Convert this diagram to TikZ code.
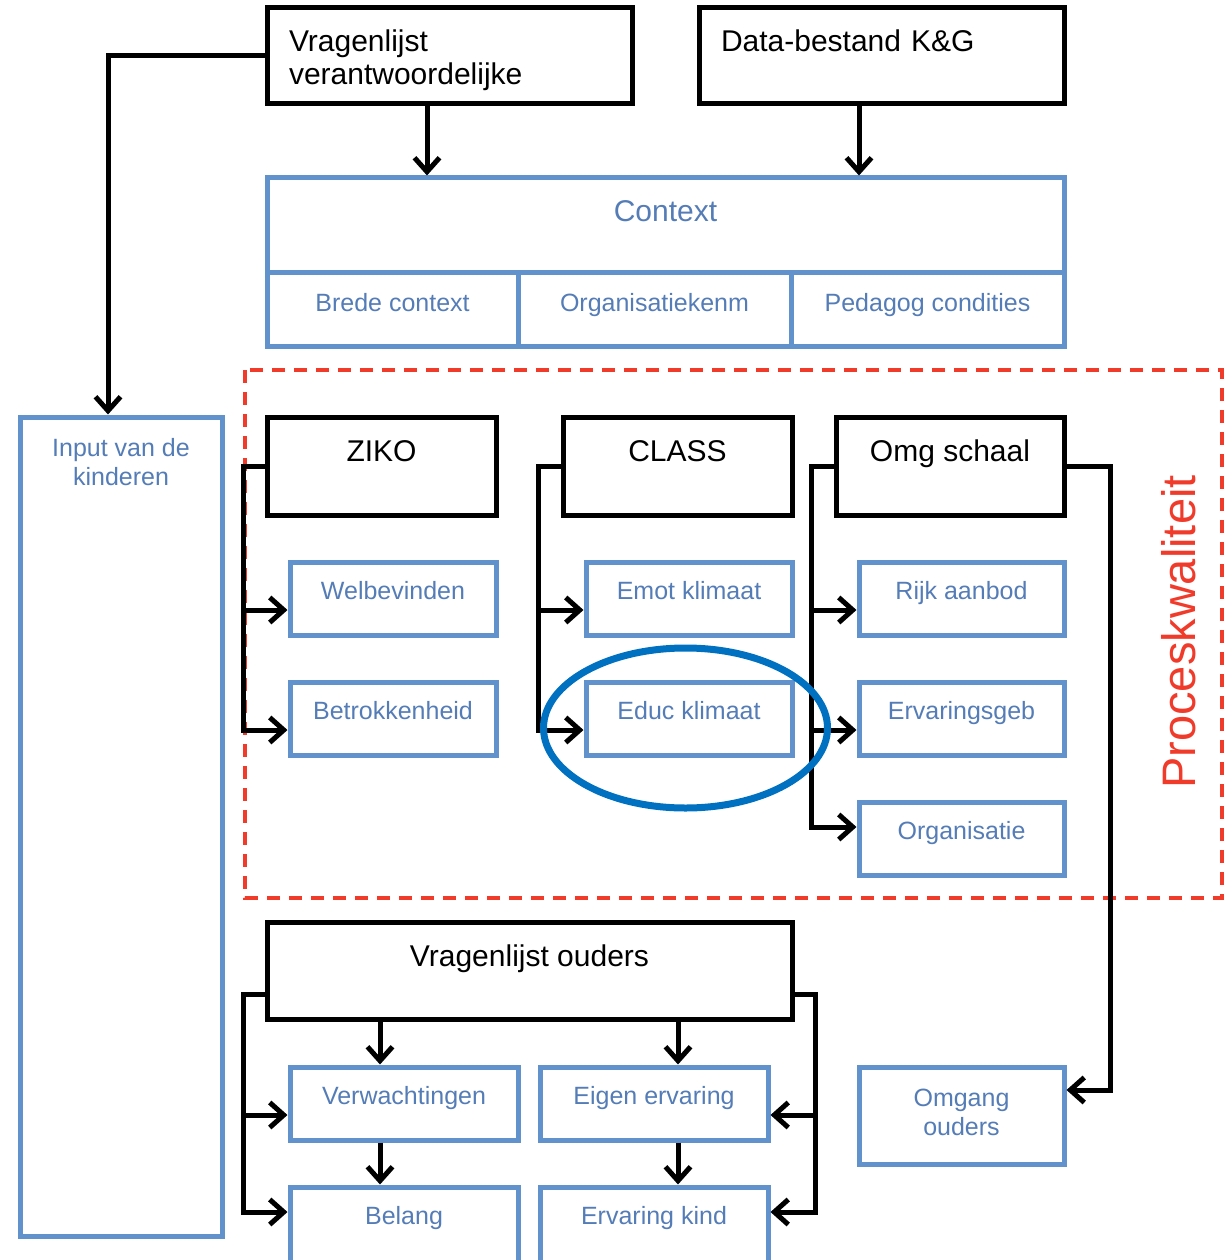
\documentclass[tikz,border=0pt]{standalone}
\usepackage{fontspec}
\setmainfont{Liberation Sans}
\usetikzlibrary{arrows.meta}
\definecolor{boxblue}{RGB}{98,146,204}
\definecolor{txtblue}{RGB}{84,124,182}
\definecolor{procred}{RGB}{240,58,42}
\definecolor{ringblue}{RGB}{0,112,192}
\newcommand{\blkfont}{\fontsize{30pt}{33pt}\selectfont}
\newcommand{\blufont}{\fontsize{25pt}{29pt}\selectfont}
\newcommand{\ctxfont}{\fontsize{30pt}{34pt}\selectfont}
\newcommand{\redfont}{\fontsize{47pt}{52pt}\selectfont}
\tikzset{
  blk/.style={draw, line width=5pt, inner sep=0pt, font=\blkfont, text height=44pt},
  blu/.style={draw=boxblue, line width=5pt, inner sep=0pt, font=\blufont,
    text=txtblue, text height=37pt},
  wire/.style={line width=5pt},
  conn/.style={wire, -{Straight Barb[length=14pt,width=25pt]}}
}
\begin{document}
\begin{tikzpicture}[x=1pt, y=-1pt]
      \useasboundingbox (0,0) rectangle (1229,1260);
      \clip (0,0) rectangle (1229,1260);
      % sources and context
      \node[blk, minimum width=365pt, text width=321pt, align=left, text depth=52pt]
        (vragver) at (449.5,56)
        {\begin{tabular}[t]{@{}l@{}}Vragenlijst\\verantwoordelijke\end{tabular}};
      \node[blk, minimum width=365pt, text width=321pt, align=left, text depth=52pt]
        (datakg) at (881.5,56) {Data-bestand K\&G};
      \node[blu, minimum width=797pt, font=\ctxfont, text height=43pt, text depth=51pt]
        (context) at (665.5,225) {Context};
      \node[blu, minimum width=251pt, text height=39pt, text depth=35pt]
        (brede) at (392.5,309) {Brede context};
      \node[blu, minimum width=273pt, text height=39pt, text depth=35pt]
        (orgk) at (654.5,309) {Organisatiekenm};
      \node[blu, minimum width=273pt, text height=39pt, text depth=35pt]
        (pedag) at (927.5,309) {Pedagog condities};
      \node[blu, minimum width=202pt, text height=39pt, text depth=780pt]
        (input) at (121,826.5)
        {\begin{tabular}[t]{@{}c@{}}Input van de\\kinderen\end{tabular}};

      % process quality
      \draw[procred, line width=3.5pt, dash pattern=on 13pt off 9pt]
        (245,370) rectangle (1222,898);
      \node[rotate=90, text=procred, font=\redfont, inner sep=0pt]
        (proces) at (1179,632) {Proceskwaliteit};
      \node[blk, minimum width=229pt, text depth=54pt] (ziko) at (381.5,466) {ZIKO};
      \node[blk, minimum width=229pt, text depth=54pt] (class) at (677.5,466) {CLASS};
      \node[blk, minimum width=228pt, text depth=54pt] (omg) at (950,466) {Omg schaal};
      \node[blu, minimum width=206pt, text depth=36pt] (welbev) at (393,598.5) {Welbevinden};
      \node[blu, minimum width=206pt, text depth=36pt] (betrok) at (393,718.5) {Betrokkenheid};
      \node[blu, minimum width=206pt, text depth=36pt] (emot) at (689,598.5) {Emot klimaat};
      \node[blu, minimum width=206pt, text depth=36pt] (educ) at (689,718.5) {Educ klimaat};
      \node[blu, minimum width=205pt, text depth=36pt] (rijk) at (961.5,598.5) {Rijk aanbod};
      \node[blu, minimum width=205pt, text depth=36pt] (ervgeb) at (961.5,718.5) {Ervaringsgeb};
      \node[blu, minimum width=205pt, text depth=36pt] (organ) at (961.5,838.5) {Organisatie};

      % parents
      \node[blk, minimum width=525pt, text depth=53pt] (vragoud) at (529.5,970.5) {Vragenlijst ouders};
      \node[blu, minimum width=228pt, text depth=36pt] (verw) at (404,1103.5) {Verwachtingen};
      \node[blu, minimum width=228pt, text depth=36pt] (eigen) at (654,1103.5) {Eigen ervaring};
      \node[blu, minimum width=228pt, text depth=43pt] (belang) at (404,1227) {Belang};
      \node[blu, minimum width=228pt, text depth=43pt] (ervkind) at (654,1227) {Ervaring kind};
      \node[blu, minimum width=205pt, text height=39pt, text depth=58pt]
        (omgang) at (961.5,1115.5)
        {\begin{tabular}[t]{@{}c@{}}Omgang\\ouders\end{tabular}};

      \draw[conn] (vragver.west) -| ([xshift=-13pt]input.north);
      \draw[conn] ([xshift=-22.5pt]vragver.south) -- ([xshift=-22.5pt]vragver.south |- context.north);
      \draw[conn] ([xshift=-22.5pt]datakg.south) -- ([xshift=-22.5pt]datakg.south |- context.north);

      \draw[conn] (ziko.west) -- ++(-21,0) coordinate (zikotr) |- (betrok.west |- 0,730);
      \draw[conn] (zikotr |- 0,610) -- (welbev.west |- 0,610);
      \draw[conn] (class.west) -- ++(-22,0) coordinate (classtr) |- (educ.west |- 0,730);
      \draw[conn] (classtr |- 0,610) -- (emot.west |- 0,610);
      \draw[conn] (omg.west) -- ++(-22,0) coordinate (omgtr) |- (organ.west |- 0,827);
      \draw[conn] (omgtr |- 0,610) -- (rijk.west |- 0,610);
      \draw[conn] (omgtr |- 0,730) -- (ervgeb.west |- 0,730);
      \draw[conn] (omg.east) -- ++(44,0) |- (omgang.east |- 0,1090);

      \draw[conn] ([yshift=-24pt]vragoud.west) -- ++(-21,0) coordinate (oudl) |- (belang.west |- 0,1212);
      \draw[conn] (oudl |- 0,1115) -- (verw.west |- 0,1115);
      \draw[conn] ([yshift=-24pt]vragoud.east) -- ++(21,0) coordinate (oudr) |- (ervkind.east |- 0,1212);
      \draw[conn] (oudr |- 0,1115) -- (eigen.east |- 0,1115);
      \draw[conn] (vragoud.south -| 380,0) -- (verw.north -| 380,0);
      \draw[conn] (vragoud.south -| 678,0) -- (eigen.north -| 678,0);
      \draw[conn] (verw.south -| 380,0) -- (belang.north -| 380,0);
      \draw[conn] (eigen.south -| 678,0) -- (ervkind.north -| 678,0);

      \draw[ringblue, line width=7pt] (685.5,728) ellipse [x radius=142pt, y radius=80pt];
    \end{tikzpicture}
\end{document}
